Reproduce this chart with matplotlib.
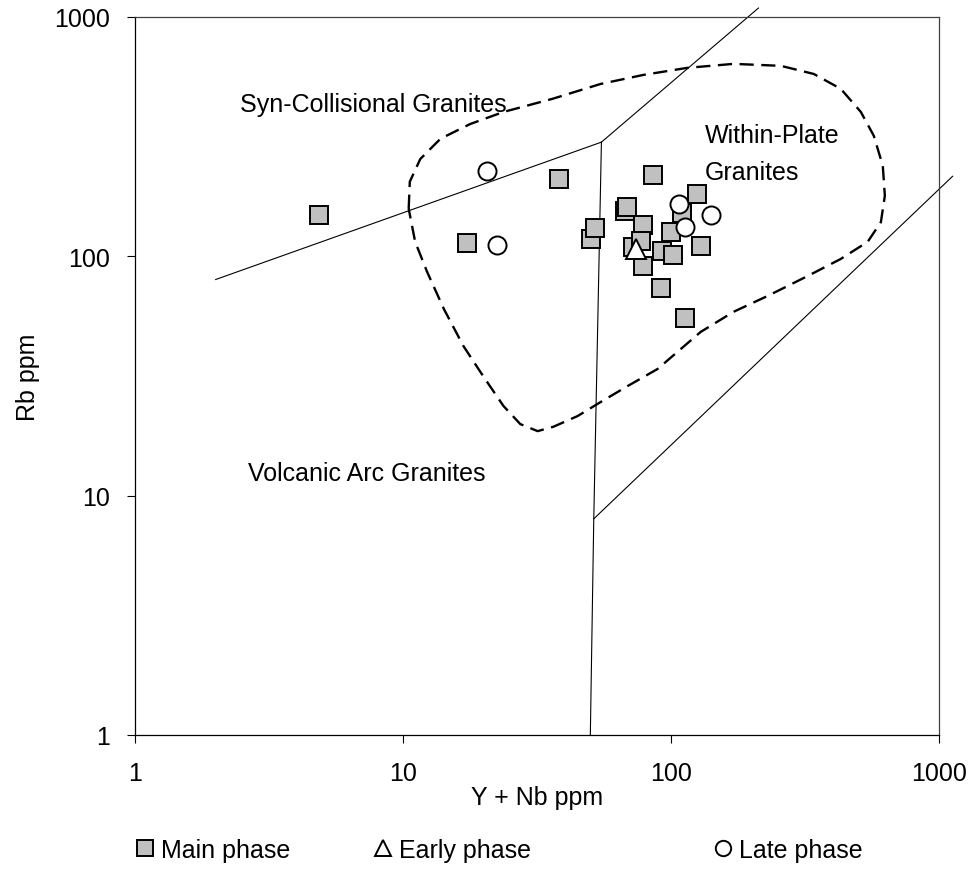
import matplotlib
matplotlib.use('Agg')
import matplotlib.pyplot as plt

plt.rcParams['font.family'] = ['Liberation Sans', 'DejaVu Sans']

# main phase samples (Y+Nb, Rb)
main_x = [4.84, 17.3, 38.2, 50.1, 52.0, 85.7, 67.4, 68.7, 78.7, 72.3,
          77.0, 78.7, 92.0, 112.4, 100.0, 92.8, 101.7, 129.0, 109.5, 125.2]
main_y = [149.4, 113.8, 210.6, 118.2, 131.0, 219.7, 155.2, 160.4, 135.3, 109.5,
          115.5, 90.9, 73.6, 55.1, 126.1, 105.6, 101.6, 110.1, 151.8, 181.5]

# early phase
early_x = [74.1]
early_y = [107.4]

# late phase
late_x = [20.6, 22.4, 107.0, 140.6, 112.7]
late_y = [228.0, 111.9, 165.6, 149.4, 133.1]

# Pearce et al. discrimination boundaries
vag_syn_x = [2, 55]
vag_syn_y = [80, 300]
syn_wpg_x = [55, 212]
syn_wpg_y = [300, 1090]
vag_wpg_x = [55, 51.5, 50]
vag_wpg_y = [300, 8, 1]
vag_org_x = [51.5, 1124]
vag_org_y = [8, 216]

# post-collisional field (dashed outline)
field_x = [10.5, 10.6, 11.6, 13.8, 17.8, 23.7, 36.1, 54.6, 79, 115, 171, 257,
           341, 430, 511, 571, 617, 628, 607, 542, 430, 324, 230, 171, 129,
           89, 68.9, 54.6, 44.8, 36.4, 31.8, 27.4, 23.7, 19.9, 16.8, 14.2,
           12.3, 11.1, 10.5]
field_y = [158, 205, 255, 310, 357, 401, 455, 525, 573, 613, 637, 625,
           578, 501, 401, 319, 239, 179, 139, 115, 97.5, 82.8, 68.4, 58.6,
           48.3, 33.8, 28.7, 24.6, 21.5, 19.4, 18.6, 19.9, 23.7, 31.6, 42.2,
           60.3, 86.1, 115, 158]

fig = plt.figure(figsize=(9.77, 8.95), dpi=100)
ax = fig.add_axes([0.1382, 0.1777, 0.8229, 0.8022])
ax.set_xscale('log')
ax.set_yscale('log')
ax.set_xlim(1, 1000)
ax.set_ylim(1, 1000)

# boundaries
for bx, by in [(vag_syn_x, vag_syn_y), (syn_wpg_x, syn_wpg_y),
               (vag_wpg_x, vag_wpg_y), (vag_org_x, vag_org_y)]:
    ax.plot(bx, by, color='black', lw=0.8, clip_on=False, zorder=2)

ax.plot(field_x, field_y, color='black', lw=1.7, dashes=(6, 3.2), zorder=2)

ms = 13
h1, = ax.plot(main_x, main_y, 's', ms=ms, mfc='#c0c0c0', mec='black', mew=1.4,
              ls='none', zorder=3, label='Main phase')
h2, = ax.plot(early_x, early_y, '^', ms=ms + 1, mfc='white', mec='black', mew=1.4,
              ls='none', zorder=4, label='Early phase')
h3, = ax.plot(late_x, late_y, 'o', ms=ms, mfc='white', mec='black', mew=1.4,
              ls='none', zorder=4, label='Late phase')

fs = 18
ax.text(240 / 977, 1 - 105 / 895, 'Syn-Collisional Granites', transform=fig.transFigure,
        fontsize=fs, va='center', ha='left')
ax.text(705 / 977, 1 - 136 / 895, 'Within-Plate', transform=fig.transFigure,
        fontsize=fs, va='center', ha='left')
ax.text(705 / 977, 1 - 173 / 895, 'Granites', transform=fig.transFigure,
        fontsize=fs, va='center', ha='left')
ax.text(248 / 977, 1 - 474 / 895, 'Volcanic Arc Granites', transform=fig.transFigure,
        fontsize=fs, va='center', ha='left')

ax.set_xticks([1, 10, 100, 1000])
ax.set_xticklabels(['1', '10', '100', '1000'])
ax.set_yticks([1, 10, 100, 1000])
ax.set_yticklabels(['1', '10', '100', '1000'])
ax.minorticks_off()
ax.tick_params(axis='x', direction='out', length=6, width=0.8, labelsize=fs, pad=13)
ax.tick_params(axis='y', direction='out', length=6, width=0.8, labelsize=fs, pad=12)

for s in ['left', 'bottom']:
    ax.spines[s].set_linewidth(0.9)
    ax.spines[s].set_color('black')
for s in ['top', 'right']:
    ax.spines[s].set_linewidth(0.9)
    ax.spines[s].set_color('#404040')

fig.text(537 / 977, 1 - 798 / 895, 'Y + Nb ppm', fontsize=fs, ha='center', va='center')
fig.text(28 / 977, 1 - 377 / 895, 'Rb ppm', fontsize=fs, ha='center', va='center',
         rotation=90)

# legend entries placed individually
for h, xpos in [(h1, 135), (h2, 373), (h3, 713)]:
    leg = fig.legend(handles=[h], loc='center left',
                     bbox_to_anchor=(xpos / 977, 1 - 851 / 895), frameon=False,
                     fontsize=fs, handlelength=0.8, handletextpad=0.25,
                     borderpad=0, borderaxespad=0, markerscale=0.85)

fig.savefig('out.png', dpi=100)
